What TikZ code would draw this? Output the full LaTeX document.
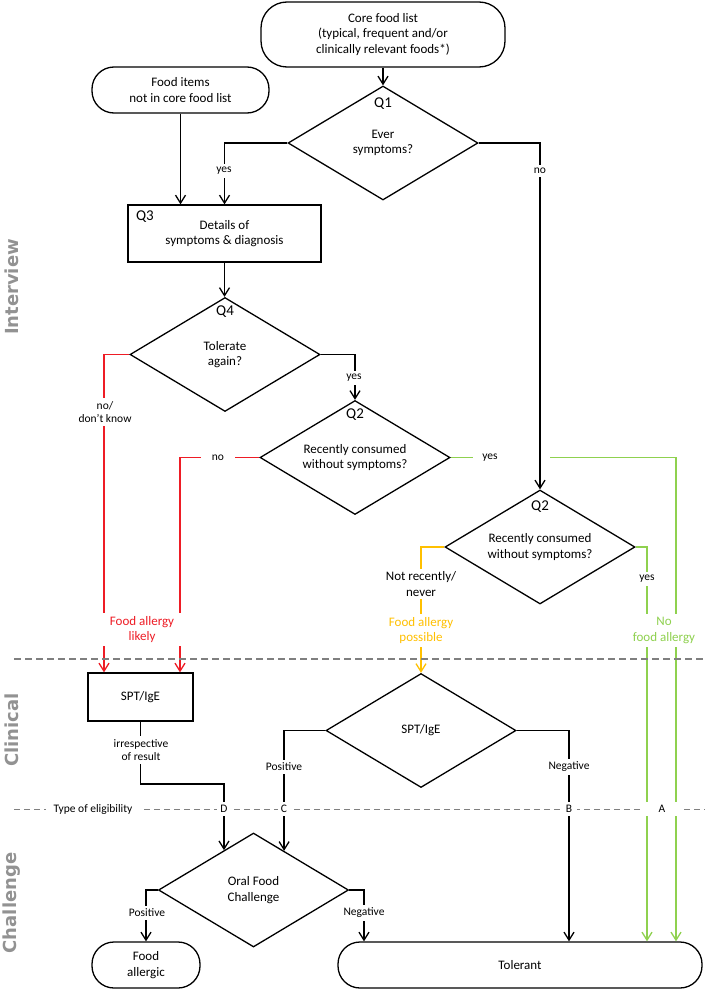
\documentclass[tikz,border=0pt]{standalone}
\usepackage{fontspec}
\setmainfont{Carlito}
\newfontfamily\sidefont{DejaVu Sans}
\usetikzlibrary{shapes.geometric,arrows.meta,calc}
\definecolor{cred}{HTML}{EE1C25}
\definecolor{cor}{HTML}{FFC000}
\definecolor{cgr}{HTML}{8FD14F}
\definecolor{sideg}{HTML}{929292}
\definecolor{sepg}{HTML}{7F7F7F}
\begin{document}
\begin{tikzpicture}[x=1pt,y=-1pt,
  every node/.style={inner sep=0pt},
  mainfont/.style={font=\fontsize{13}{15.5}\selectfont},
  termbox/.style={draw, line width=1.3pt, rounded corners=22pt, mainfont, align=center},
  procbox/.style={draw, line width=1.3pt, mainfont, align=center},
  decbox/.style={draw, diamond, aspect=1.67, line width=1.3pt, minimum width=190pt, minimum height=114pt, mainfont, align=center},
  qlab/.style={font=\fontsize{15}{17}\selectfont},
  smalllab/.style={font=\fontsize{11.5}{13.5}\selectfont, align=center, fill=white, inner sep=3pt},
  biglab/.style={mainfont, align=center, fill=white, inner sep=3pt},
  sidelab/.style={rotate=90, font=\sidefont\bfseries\fontsize{18}{21}\selectfont, text=sideg},
  arr/.style={line width=1.3pt, -{Straight Barb[length=8pt,width=10pt]}},
  rarr/.style={arr, draw=cred},
  oarr/.style={arr, draw=cor},
  garr/.style={arr, draw=cgr},
  gline/.style={draw=cgr, line width=1.3pt},
  sepone/.style={draw=sepg, line width=1.8pt, dash pattern=on 7pt off 4pt},
  septwo/.style={draw=sepg, line width=0.8pt, dash pattern=on 6pt off 4pt}
]
\useasboundingbox (0,0) rectangle (709,990);

% side labels
\node[sidelab] (sInt) at (12,287) {Interview};
\node[sidelab] (sCli) at (12,730) {Clinical};
\node[sidelab] (sCha) at (12,903) {Challenge};

% nodes
\node[termbox, minimum width=244pt, minimum height=65pt, rounded corners=26pt] (core) at (383,34.5) {Core food list\\(typical, frequent and/or\\clinically relevant foods*)};
\node[termbox, minimum width=177pt, minimum height=46pt] (food) at (180.5,90) {Food items\\not in core food list};
\node[decbox] (q1) at (383,143) {Ever\\symptoms?};
\node[qlab] (q1l) at (383,104) {Q1};
\node[procbox, minimum width=193pt, minimum height=57pt] (q3) at (224.5,233.5) {Details of\\symptoms \& diagnosis};
\node[qlab] (q3l) at (145,217) {Q3};
\node[decbox] (q4) at (225,354.5) {Tolerate\\again?};
\node[qlab] (q4l) at (225,312) {Q4};
\node[decbox] (q2a) at (355,457.5) {Recently consumed\\without symptoms?};
\node[qlab] (q2al) at (355,415) {Q2};
\node[decbox] (q2b) at (540,547) {Recently consumed\\without symptoms?};
\node[qlab] (q2bl) at (540,507) {Q2};
\node[procbox, minimum width=105pt, minimum height=48pt] (spt) at (140.5,697) {SPT/IgE};
\node[decbox] (spt2) at (421,730.5) {SPT/IgE};
\node[decbox] (ofc) at (253.5,890) {Oral Food\\Challenge};
\node[termbox, minimum width=108pt, minimum height=46pt] (fa) at (146,965) {Food\\allergic};
\node[termbox, minimum width=364pt, minimum height=46pt] (tol) at (520,965) {Tolerant};

% helper coordinates
\coordinate (xA) at (104,0);
\coordinate (xB) at (180,0);
\coordinate (xT1) at (364,0);
\coordinate (xT2) at (569,0);
\coordinate (xG1) at (647,0);
\coordinate (xG2) at (676,0);
\coordinate (gapR) at (550,0);
\coordinate (bendD) at (224,784);
\coordinate (dTip) at ($(ofc.north)!0.309!(ofc.west)$);
\coordinate (cTip) at ($(ofc.north)!0.32!(ofc.east)$);

% connectors
\draw[arr] (core.south) -- (q1.north);
\draw[arr] (q1.west) -| (q3.north);
\draw[arr] (food.south) -- (food.south |- q3.north);
\draw[arr] (q3.south) -- (q3.south |- q4.north);
\draw[arr] (q4.east) -| (q2a.north);
\draw[rarr] (q4.west) -| (spt.north -| xA);
\draw[rarr] (q2a.west) -| (spt.north -| xB);
\draw[gline] (q2a.east) -- ++(22,0);
\draw[garr] (q2a.east -| gapR) -| (tol.north -| xG2);
\draw[arr] (q1.east) -| (q2b.north);
\draw[oarr] (q2b.west) -| (spt2.north);
\draw[garr] (q2b.east) -| (tol.north -| xG1);
\draw[arr] (spt.south) |- (bendD) -- (bendD |- dTip);
\draw[arr] (spt2.west) -| (cTip);
\draw[arr] (spt2.east) -| (tol.north -| xT2);
\draw[arr] (ofc.west) -| (fa.north);
\draw[arr] (ofc.east) -| (tol.north -| xT1);

% separators
\draw[sepone] (14,659) -- (705,659);
\draw[septwo] (14,809) -- (705,809);

% labels
\node[smalllab] (lyes1) at (224,171) {yes};
\node[smalllab] (lno1) at (540,171) {no};
\node[smalllab] (lno4) at (105,412) {no/\\don’t know};
\node[smalllab] (lyes4) at (354,378) {yes};
\node[smalllab, inner xsep=11pt] (lno2) at (218,457.5) {no};
\node[smalllab] (lyes2) at (490,457.5) {yes};
\node[biglab] (lnotr) at (421,584) {Not recently/\\never};
\node[biglab, text=cor] (lposs) at (421,630.5) {Food allergy\\possible};
\node[smalllab] (lyes2b) at (647,579) {yes};
\node[biglab, text=cgr] (lnofa) at (664,630.5) {No\\food allergy};
\node[biglab, text=cred, minimum width=86pt] (llik) at (142,629.5) {Food allergy\\likely};
\node[smalllab] (lirr) at (141,750) {irrespective\\of result};
\node[smalllab] (lpos1) at (284,767) {Positive};
\node[smalllab] (lneg1) at (569,767) {Negative};
\node[smalllab, inner xsep=8pt] (ltype) at (93,809) {Type of eligibility};
\node[smalllab] (lD) at (224,809) {D};
\node[smalllab] (lC) at (284,809) {C};
\node[smalllab, inner xsep=5pt] (lB) at (569,809) {B};
\node[smalllab, minimum width=38pt] (lA) at (662,809) {A};
\node[smalllab] (lpos2) at (147,913) {Positive};
\node[smalllab] (lneg2) at (364,913) {Negative};
\end{tikzpicture}
\end{document}
